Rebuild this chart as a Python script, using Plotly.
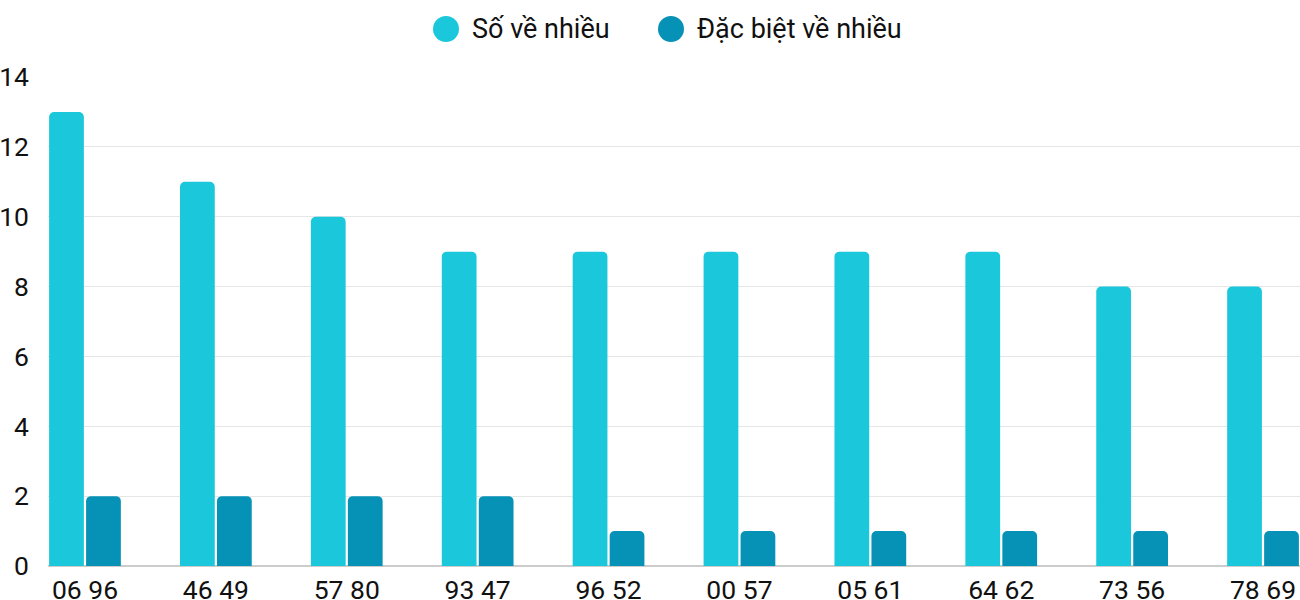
import plotly.graph_objects as go

categories = ["06 96", "46 49", "57 80", "93 47", "96 52", "00 57", "05 61", "64 62", "73 56", "78 69"]
so_ve_nhieu = [13, 11, 10, 9, 9, 9, 9, 9, 8, 8]
dac_biet_ve_nhieu = [2, 2, 2, 2, 1, 1, 1, 1, 1, 1]
series_names = ["Số về nhiều", "Đặc biệt về nhiều"]
colors = ["#1BC8DB", "#0592B6"]
y_ticks = [0, 2, 4, 6, 8, 10, 12, 14]

FONT = "Roboto"
FS = 26.5

W, H = 1300, 600
L, T, B = 48, 77, 34
PW, PH = W - L, H - T - B

fig = go.Figure()
for name, vals, col in zip(series_names, [so_ve_nhieu, dac_biet_ve_nhieu], colors):
    fig.add_trace(go.Bar(
        x=categories, y=vals, name=name,
        marker=dict(color=col, cornerradius=5, line=dict(width=0)),
        showlegend=False, hoverinfo="x+y+name",
    ))

bargap = 0.435
half = (1 - bargap) / 2

# Custom legend with large circles (page pixel coords)
legend_items = [(446, 473), (671, 698)]
ly = 1 + (77 - 29) / PH
for (cx, tx), name, col in zip(legend_items, series_names, colors):
    fig.add_shape(type="circle", xref="paper", yref="paper",
                  xsizemode="pixel", ysizemode="pixel",
                  xanchor=(cx - L) / PW, yanchor=ly,
                  x0=-13, x1=13, y0=-13, y1=13,
                  fillcolor=col, line=dict(width=0))
    fig.add_annotation(text=name, xref="paper", yref="paper",
                       x=(tx - L) / PW, y=ly,
                       xanchor="left", yanchor="middle", showarrow=False,
                       xshift=-3,
                       font=dict(family=FONT, size=27, color="#111111"))

fig.update_layout(
    width=W, height=H,
    margin=dict(l=L, r=0, t=T, b=B, pad=0, autoexpand=False),
    paper_bgcolor="white", plot_bgcolor="white",
    barmode="group", bargap=bargap, bargroupgap=0.06,
    font=dict(family=FONT, size=FS, color="#111111"),
    xaxis=dict(type="category", range=[-half, len(categories) - 1 + half],
               showgrid=False, showline=False, ticks="", automargin=False,
               ticklabelstandoff=5,
               tickfont=dict(family=FONT, size=FS, color="#111111")),
    yaxis=dict(range=[0, 14], tickvals=y_ticks, showgrid=True,
               gridcolor="#e6e6e6", gridwidth=1, automargin=False,
               zeroline=True, zerolinecolor="#cccccc", zerolinewidth=1.5,
               showline=False, ticks="", ticklabelstandoff=18,
               tickfont=dict(family=FONT, size=FS, color="#111111")),
)

fig.write_html("out.html", config={"displayModeBar": False},
               post_script="document.body.style.margin='0';document.body.style.overflow='hidden';")
